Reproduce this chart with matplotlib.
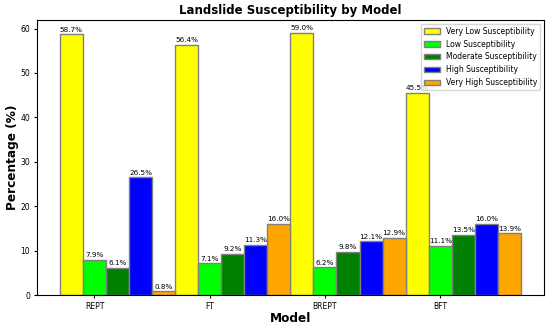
import numpy as np
import matplotlib.pyplot as plt

models = ["REPT", "FT", "BREPT", "BFT"]
classes = ["Very Low Susceptibility", "Low Susceptibility", "Moderate Susceptibility",
           "High Susceptibility", "Very High Susceptibility"]
very_low = [58.7, 56.4, 59.0, 45.5]
low = [7.9, 7.1, 6.2, 11.1]
moderate = [6.1, 9.2, 9.8, 13.5]
high = [26.5, 11.3, 12.1, 16.0]
very_high = [0.8, 16.0, 12.9, 13.9]
colors = ["yellow", "lime", "green", "blue", "orange"]

series = [very_low, low, moderate, high, very_high]

fig, ax = plt.subplots(figsize=(5.5, 3.26), dpi=100)
x = np.arange(len(models))
width = 0.2
for i, (vals, lab, c) in enumerate(zip(series, classes, colors)):
    bars = ax.bar(x + (i - 1) * width, vals, width, label=lab, color=c, edgecolor="gray")
    for b, v in zip(bars, vals):
        ax.text(b.get_x() + b.get_width() / 2, v + 0.4, f"{v}%", ha="center", va="bottom", fontsize=5.2)

ax.set_xticks(x)
ax.set_xticklabels(models)
ax.tick_params(labelsize=5.5, length=2.5, pad=2.5)
ax.set_title("Landslide Susceptibility by Model", fontsize=8.5, fontweight="bold", pad=4)
ax.set_xlabel("Model", fontsize=8.7, fontweight="bold", labelpad=1)
ax.set_ylabel("Percentage (%)", fontsize=8.7, fontweight="bold", labelpad=1)
ax.legend(fontsize=5.5, loc="upper right")
plt.subplots_adjust(left=0.067, right=0.989, top=0.939, bottom=0.095)
plt.savefig("out.png", dpi=100)
